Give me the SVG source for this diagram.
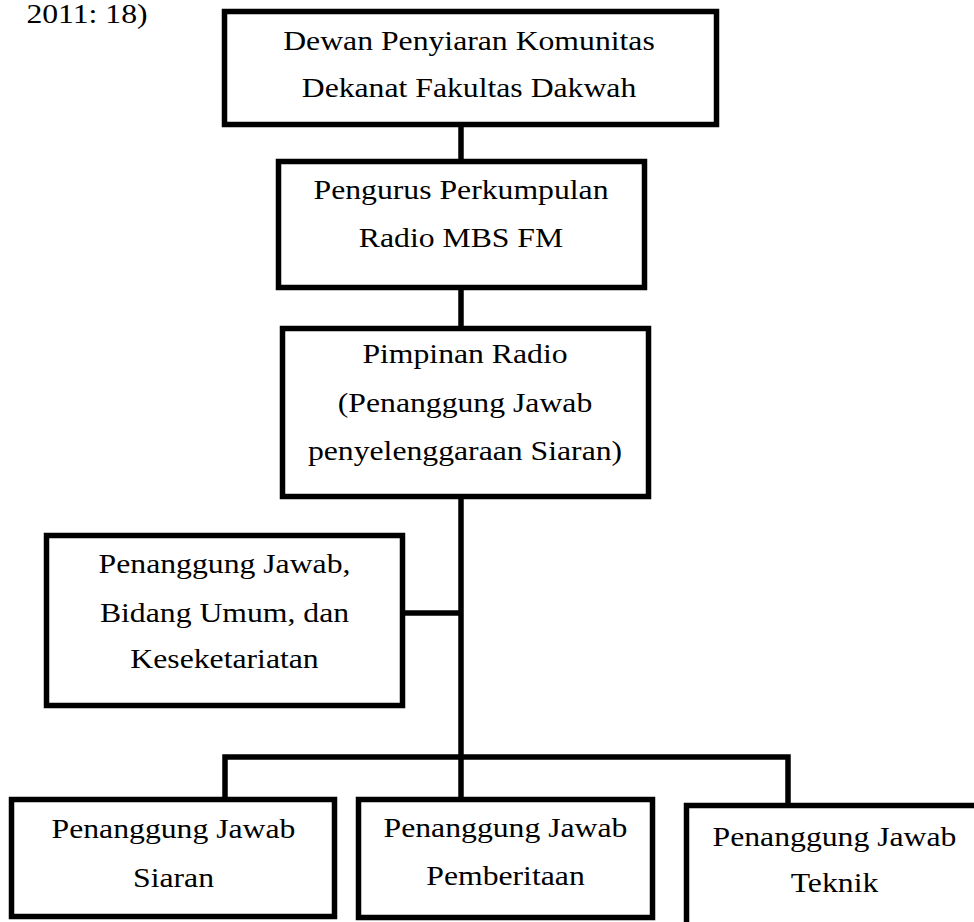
<svg xmlns="http://www.w3.org/2000/svg" width="974" height="922" viewBox="0 0 974 922">
<style>
.box{fill:#fff;stroke:#000;stroke-width:5.5}
.ln{fill:none;stroke:#000;stroke-width:5.5}
text{font-family:"Liberation Serif","Times New Roman",serif;font-size:27px;fill:#000;text-anchor:middle}
</style>
<rect width="974" height="922" fill="#fff"/>
<text transform="translate(87,23) scale(1.175,1)">2011: 18)</text>
<g id="connectors">
<line class="ln" x1="461" y1="124" x2="461" y2="162"/>
<line class="ln" x1="461" y1="287" x2="461" y2="329"/>
<line class="ln" x1="461" y1="496" x2="461" y2="800"/>
<line class="ln" x1="402" y1="613" x2="461" y2="613"/>
<polyline class="ln" points="225,800 225,757 788,757 788,806"/>
</g>
<g id="n1">
<rect class="box" x="224.5" y="11.5" width="492" height="113"/>
<text transform="translate(469,50) scale(1.175,1)">Dewan Penyiaran Komunitas</text>
<text transform="translate(469,96.7) scale(1.175,1)">Dekanat Fakultas Dakwah</text>
</g>
<g id="n2">
<rect class="box" x="278.5" y="161.5" width="366" height="126"/>
<text transform="translate(461,199.3) scale(1.175,1)">Pengurus Perkumpulan</text>
<text transform="translate(461,246.7) scale(1.175,1)">Radio MBS FM</text>
</g>
<g id="n3">
<rect class="box" x="282.5" y="328.5" width="366" height="168"/>
<text transform="translate(465,363.3) scale(1.175,1)">Pimpinan Radio</text>
<text transform="translate(465,411.7) scale(1.175,1)">(Penanggung Jawab</text>
<text transform="translate(465,460) scale(1.175,1)">penyelenggaraan Siaran)</text>
</g>
<g id="n4">
<rect class="box" x="46.5" y="535.5" width="356" height="170"/>
<text transform="translate(224.5,573.3) scale(1.175,1)">Penanggung Jawab,</text>
<text transform="translate(224.5,621.7) scale(1.175,1)">Bidang Umum, dan</text>
<text transform="translate(224.5,668.3) scale(1.175,1)">Keseketariatan</text>
</g>
<g id="n5">
<rect class="box" x="11.5" y="799.5" width="323" height="117"/>
<text transform="translate(173.5,838.3) scale(1.175,1)">Penanggung Jawab</text>
<text transform="translate(173.5,886.7) scale(1.175,1)">Siaran</text>
</g>
<g id="n6">
<rect class="box" x="358.5" y="799.5" width="294" height="118"/>
<text transform="translate(505.5,837.3) scale(1.175,1)">Penanggung Jawab</text>
<text transform="translate(505.5,885) scale(1.175,1)">Pemberitaan</text>
</g>
<g id="n7">
<rect class="box" x="686.5" y="805.5" width="300" height="130"/>
<text transform="translate(834.5,846) scale(1.175,1)">Penanggung Jawab</text>
<text transform="translate(834.5,891.7) scale(1.175,1)">Teknik</text>
</g>
</svg>
